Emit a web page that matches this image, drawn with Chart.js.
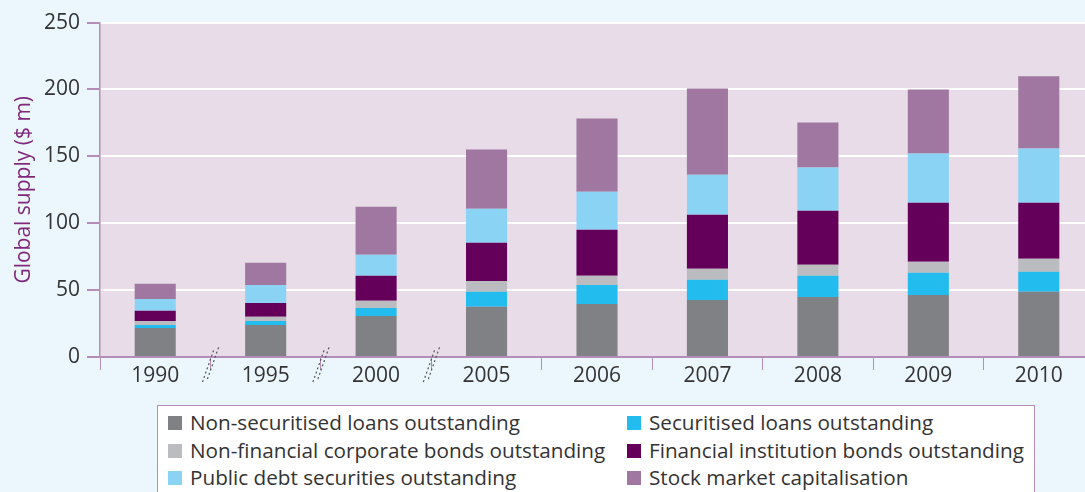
<!DOCTYPE html>
<html lang="en">
<head>
  <meta charset="UTF-8">
  <title>Global supply</title>
  <style>
    body {
      margin: 0;
      padding: 0;
      background: #ecf6fd;
      overflow: hidden;
      font-family: "Open Sans", sans-serif;
    }
    .chart-container {
      position: absolute;
      left: 0;
      top: 3px;
      width: 1094px;
      height: 400px;
    }
    #legend {
      position: absolute;
      left: 157px;
      top: 405px;
      width: 878px;
      height: 120px;
      background: #ffffff;
      border: 1px solid #b48db8;
      box-sizing: border-box;
    }
    .item {
      position: absolute;
      height: 27px;
      line-height: 27px;
      font-size: 20.7px;
      color: #333333;
      white-space: nowrap;
    }
    .item span.box {
      position: absolute;
      left: 0;
      top: 6px;
      width: 14px;
      height: 14px;
    }
    .item span.txt {
      position: absolute;
      left: 22px;
      top: -1px;
    }
  </style>
  <script src="https://cdn.jsdelivr.net/npm/chart.js"></script>
</head>
<body>
  <div class="chart-container">
    <canvas id="myChart"></canvas>
  </div>
  <div id="legend"></div>

  <script>
    // données
    const years = ['1990', '1995', '2000', '2005', '2006', '2007', '2008', '2009', '2010'];
    const nonSecLoans   = [21.7, 24.0, 30.7, 37.5, 39.7, 42.7, 44.9, 46.4, 48.7];
    const secLoans      = [2.3, 3.0, 6.0, 11.2, 14.2, 15.0, 15.8, 16.5, 15.0];
    const nonFinBonds   = [3.0, 3.0, 5.3, 8.2, 6.8, 8.2, 8.2, 8.3, 9.7];
    const finInstBonds  = [7.5, 10.4, 18.7, 28.5, 34.4, 40.5, 40.5, 44.2, 42.0];
    const publicDebt    = [8.9, 13.5, 15.7, 25.5, 28.5, 29.9, 32.2, 36.7, 40.4];
    const stockMarket   = [11.3, 16.5, 36.0, 44.2, 54.7, 64.5, 33.7, 47.9, 54.0];
    const yTicks = [0, 50, 100, 150, 200, 250];
    const breakAfter = [0, 1, 2];   // coupures d'axe entre 1990/1995, 1995/2000, 2000/2005

    const axisColor = '#b48db8';
    const plotBg = '#e7dce8';

    const series = [
      { label: 'Non-securitised loans outstanding', data: nonSecLoans, color: '#808184' },
      { label: 'Securitised loans outstanding', data: secLoans, color: '#23bcee' },
      { label: 'Non-financial corporate bonds outstanding', data: nonFinBonds, color: '#bbbcbf' },
      { label: 'Financial institution bonds outstanding', data: finInstBonds, color: '#65005a' },
      { label: 'Public debt securities outstanding', data: publicDebt, color: '#8ad3f4' },
      { label: 'Stock market capitalisation', data: stockMarket, color: '#a077a1' }
    ];

    // fond du graphique + coupures
    const decoPlugin = {
      id: 'deco',
      beforeDraw(chart) {
        const a = chart.chartArea;
        const ctx = chart.ctx;
        ctx.save();
        ctx.fillStyle = plotBg;
        ctx.fillRect(a.left, a.top, a.right - a.left, a.bottom - a.top);
        ctx.restore();
      },
      afterDraw(chart) {
        const x = chart.scales.x;
        const ctx = chart.ctx;
        const base = chart.chartArea.bottom;
        ctx.save();
        ctx.strokeStyle = '#555555';
        ctx.lineWidth = 1.2;
        ctx.setLineDash([2, 2.5]);
        breakAfter.forEach(i => {
          const bx = (x.getPixelForValue(i) + x.getPixelForValue(i + 1)) / 2;
          [0, 5].forEach(dx => {
            ctx.beginPath();
            ctx.moveTo(bx - 8 + dx, base + 25 - dx * 0.6);
            ctx.lineTo(bx + 4 + dx, base - 9 - dx * 0.6);
            ctx.stroke();
          });
        });
        ctx.restore();
      }
    };

    const ctx = document.getElementById('myChart').getContext('2d');
    const myChart = new Chart(ctx, {
      type: 'bar',
      data: {
        labels: years,
        datasets: series.map(s => ({
          label: s.label,
          data: s.data,
          backgroundColor: s.color,
          borderWidth: 0,
          categoryPercentage: 1,
          barPercentage: 0.372
        }))
      },
      options: {
        responsive: true,
        maintainAspectRatio: false,
        animation: false,
        layout: { padding: { top: 17, right: 0, bottom: 0, left: 0 } },
        plugins: {
          legend: { display: false },
          tooltip: { enabled: false }
        },
        scales: {
          x: {
            stacked: true,
            grid: {
              drawOnChartArea: false,
              color: axisColor,
              tickLength: 13
            },
            border: { color: axisColor, width: 1.5 },
            ticks: {
              color: '#333333',
              padding: -7,
              font: { family: 'Open Sans', size: 21 }
            },
            afterFit(scale) { scale.height = 46; }
          },
          y: {
            stacked: true,
            min: 0,
            max: 250,
            afterBuildTicks(scale) { scale.ticks = yTicks.map(v => ({ value: v })); },
            grid: {
              color: ctx => ctx.tick && ctx.tick.value === 0 ? axisColor : '#ffffff',
              tickColor: axisColor,
              lineWidth: 2,
              tickLength: 13
            },
            border: { color: axisColor, width: 1.5 },
            ticks: {
              color: '#333333',
              padding: 7,
              font: { family: 'Open Sans', size: 21 }
            },
            title: {
              display: true,
              text: 'Global supply ($ m)',
              color: '#80287a',
              padding: { top: 11, bottom: 0 },
              font: { family: 'Open Sans', size: 21 }
            },
            afterFit(scale) { scale.width = 100; }
          }
        }
      },
      plugins: [decoPlugin]
    });

    // légende HTML à deux colonnes
    const legend = document.getElementById('legend');
    const colX = [10, 469];
    myChart.data.datasets.forEach((ds, i) => {
      const item = document.createElement('div');
      item.className = 'item';
      item.style.left = colX[i % 2] + 'px';
      item.style.top = (4 + Math.floor(i / 2) * 27.5) + 'px';
      item.innerHTML = '<span class="box" style="background:' + ds.backgroundColor + '"></span>' +
        '<span class="txt">' + ds.label + '</span>';
      legend.appendChild(item);
    });
  </script>
</body>
</html>
